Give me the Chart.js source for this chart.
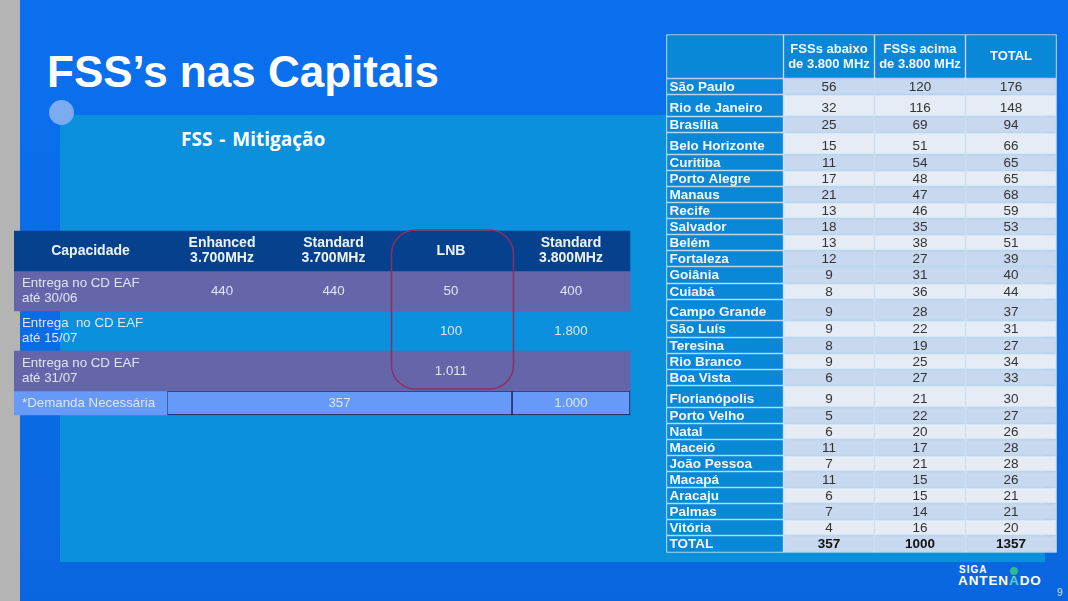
<!DOCTYPE html>
<html lang="pt-BR">
<head>
<meta charset="utf-8">
<title>FSS's nas Capitais</title>
<script src="https://cdn.jsdelivr.net/npm/chart.js@4"></script>
<style>
  html, body { margin: 0; padding: 0; }
  body { width: 1068px; height: 601px; overflow: hidden; position: relative; font-family: "Liberation Sans", Arial, sans-serif; color: #fff;
         background: linear-gradient(180deg, #0a70ee 0%, #0a6ce6 60%, #0a66de 100%); }
  .gutter { position: absolute; left: 0; top: 0; width: 20px; height: 601px; background: #b4b4b4; }
  .panel { position: absolute; left: 60px; top: 115px; width: 985px; height: 447px; background: #0a90dc; }
  .dot { position: absolute; left: 49px; top: 100px; width: 25px; height: 25px; border-radius: 50%; background: #7cabf2; }
  h1 { position: absolute; left: 47px; top: 45px; margin: 0; font-size: 44px; line-height: 54px; font-weight: bold; white-space: nowrap; }
  h2 { position: absolute; left: 181px; top: 127px; margin: 0; font: bold 19px/24px "Open Sans", sans-serif; word-spacing: 2px; white-space: nowrap; }
  canvas { position: absolute; }
  #capacityChart { left: 14px; top: 225px; }
  #capitalsChart { left: 666px; top: 34px; }
  .logo { position: absolute; left: 958px; top: 563px; width: 90px; height: 26px; font-weight: bold; }
  .logo .siga { position: absolute; left: 1px; top: 1px; font-size: 10px; line-height: 11px; letter-spacing: 1px; }
  .logo .name { position: absolute; left: 0; top: 10px; font-size: 13.5px; line-height: 15px; letter-spacing: 0.9px; white-space: nowrap; }
  .logo .name span { color: #5fd0c0; }
  .logo .head { position: absolute; left: 52px; top: 4px; width: 8px; height: 8px; border-radius: 50%; background: #2fb98e; }
  .page { position: absolute; left: 1057px; top: 587px; font-size: 10px; line-height: 12px; color: #cfe0f8; }
</style>
</head>
<body>
<div class="gutter"></div>
<div class="panel"></div>
<div class="dot"></div>
<h1>FSS’s nas Capitais</h1>
<h2>FSS - Mitigação</h2>
<canvas id="capacityChart" width="620" height="195"></canvas>
<canvas id="capitalsChart" width="392" height="519"></canvas>
<div class="logo">
  <div class="siga">SIGA</div>
  <div class="head"></div>
  <div class="name">ANTEN<span>A</span>DO</div>
</div>
<div class="page">9</div>

<script>
/* -------------------------
   DATA - capitals table
--------------------------*/
const cities = ["São Paulo", "Rio de Janeiro", "Brasília", "Belo Horizonte", "Curitiba", "Porto Alegre", "Manaus",
    "Recife", "Salvador", "Belém", "Fortaleza", "Goiânia", "Cuiabá", "Campo Grande", "São Luís", "Teresina",
    "Rio Branco", "Boa Vista", "Florianópolis", "Porto Velho", "Natal", "Maceió", "João Pessoa", "Macapá",
    "Aracaju", "Palmas", "Vitória", "TOTAL"];
const belowValues = [56, 32, 25, 15, 11, 17, 21, 13, 18, 13, 12, 9, 8, 9, 9, 8, 9, 6, 9, 5, 6, 11, 7, 11, 6, 7, 4, 357];
const aboveValues = [120, 116, 69, 51, 54, 48, 47, 46, 35, 38, 27, 31, 36, 28, 22, 19, 25, 27, 21, 22, 20, 17, 21, 15, 15, 14, 16, 1000];
const totalValues = [176, 148, 94, 66, 65, 65, 68, 59, 53, 51, 39, 40, 44, 37, 31, 27, 34, 33, 30, 27, 26, 28, 28, 26, 21, 21, 20, 1357];
const capitalHeaders = [[], ["FSSs abaixo", "de 3.800 MHz"], ["FSSs acima", "de 3.800 MHz"], ["TOTAL"]];

/* -------------------------
   DATA - capacity table
--------------------------*/
const capacityHeaders = [["Capacidade"], ["Enhanced", "3.700MHz"], ["Standard", "3.700MHz"], ["LNB"], ["Standard", "3.800MHz"]];
const deliveryRows = [["Entrega no CD EAF", "até 30/06"], ["Entrega  no CD EAF", "até 15/07"], ["Entrega no CD EAF", "até 31/07"]];
const enhancedValues = ["440", "", ""];
const standard37Values = ["440", "", ""];
const lnbValues = ["50", "100", "1.011"];
const standard38Values = ["400", "1.800", ""];
const demandLabel = "*Demanda Necessária";
const demandValues = ["357", "1.000"];

/* -------------------------
   LAYOUT (column widths and row heights, in px)
--------------------------*/
const capitalCols = [117, 91, 91, 91];
const capitalRows = [44, 16, 22, 16, 22, 16, 16, 16, 16, 16, 16, 16, 17, 16, 21, 17, 16, 16, 16, 22, 16, 16, 16, 16, 16, 16, 16, 16, 17];
const capacityCols = [153, 110, 113, 122, 118];
const capacityRows = [40, 40, 40, 40, 24];

// running edges: [0, a, a+b, ...]
const edges = (sizes, start = 0) => sizes.reduce((acc, s) => { acc.push(acc[acc.length - 1] + s); return acc; }, [start]);

function cellBars(xFrom, xTo, spans) {
    return {
        barThickness: xTo - xFrom,
        grouped: false,
        data: spans.map(s => ({ x: (xFrom + xTo) / 2, y: s })),
        borderSkipped: false
    };
}

function tableChart(id, datasets, xMax, yMin, yMax, drawExtras) {
    const el = document.getElementById(id);
    return new Chart(el, {
        type: "bar",
        data: { datasets },
        options: {
            responsive: false,
            animation: false,
            layout: { padding: 0 },
            plugins: { legend: { display: false }, tooltip: { enabled: false } },
            scales: {
                x: { type: "linear", display: false, min: 0, max: xMax, offset: false },
                y: { type: "linear", display: false, min: yMin, max: yMax, reverse: true }
            }
        },
        plugins: [{ id: "cellText", afterDatasetsDraw: drawExtras }]
    });
}

function putText(ctx, text, x, y, font, color, align = "center") {
    ctx.font = font;
    ctx.fillStyle = color;
    ctx.textAlign = align;
    ctx.textBaseline = "middle";
    ctx.fillText(text, x, y);
}

/* -------------------------
   CAPITALS TABLE
--------------------------*/
const colX = edges(capitalCols, 0.5);
const rowY = edges(capitalRows, 0.5);
const bodySpans = cities.map((c, i) => [rowY[i + 1], rowY[i + 2]]);
const rowShade = cities.map((c, i) => ((i <= 10 ? i % 2 === 0 : i % 2 === 1) ? "#c8d8ee" : "#e6ecf6"));
const capitalLine = "#dfeaf6";

const capitalSets = [];
// header + first column in the dark blue
capitalSets.push({ ...cellBars(colX[0], colX[1], [[rowY[0], rowY[1]], ...bodySpans]), backgroundColor: "#0a88d8", borderColor: capitalLine, borderWidth: 1 });
for (let c = 1; c < capitalCols.length; c++) {
    capitalSets.push({
        ...cellBars(colX[c], colX[c + 1], [[rowY[0], rowY[1]], ...bodySpans]),
        backgroundColor: ["#0a88d8", ...rowShade],
        borderColor: capitalLine,
        borderWidth: 1
    });
}

tableChart("capitalsChart", capitalSets, 392, 0, 519, (chart) => {
    const { ctx, scales: { x, y } } = chart;
    const columns = [belowValues, aboveValues, totalValues];
    ctx.save();
    capitalHeaders.forEach((lines, c) => {
        const cx = x.getPixelForValue((colX[c] + colX[c + 1]) / 2);
        const mid = (rowY[0] + rowY[1]) / 2;
        lines.forEach((line, l) => {
            const yy = y.getPixelForValue(mid + (l - (lines.length - 1) / 2) * 15);
            putText(ctx, line, cx, yy, "bold 13px 'Liberation Sans'", "#f2f8ff");
        });
    });
    cities.forEach((city, i) => {
        const mid = (rowY[i + 1] + rowY[i + 2]) / 2 + 0.5;
        const yy = y.getPixelForValue(mid + (capitalRows[i + 1] > 20 ? 2 : 0));
        const bold = i === cities.length - 1;
        putText(ctx, city, x.getPixelForValue(colX[0] + 3), yy, "bold 13.5px 'Liberation Sans'", "#f4f9ff", "left");
        columns.forEach((vals, c) => {
            putText(ctx, String(vals[i]), x.getPixelForValue((colX[c + 1] + colX[c + 2]) / 2), yy,
                (bold ? "bold " : "") + "13.5px 'Liberation Sans'", bold ? "#111" : "#333");
        });
    });
    ctx.restore();
});

/* -------------------------
   CAPACITY TABLE
--------------------------*/
const capX = edges(capacityCols);
const capY = edges(capacityRows, 6);
const fullWidth = capX[capX.length - 1];
const purple = "#6566aa";
const demandBlue = "#6699f8";
const demandLine = "#0a1f50";

const capacitySets = [
    { ...cellBars(0, fullWidth, [[capY[0], capY[1]]]), backgroundColor: "#05418c" },
    { ...cellBars(0, fullWidth, [[capY[1], capY[2]], [capY[3], capY[4]]]), backgroundColor: purple },
    { ...cellBars(0, capX[1], [[capY[4], capY[5]]]), backgroundColor: demandBlue },
    { ...cellBars(capX[1], capX[4], [[capY[4], capY[5]]]), backgroundColor: demandBlue, borderColor: demandLine, borderWidth: 1 },
    { ...cellBars(capX[4], capX[5], [[capY[4], capY[5]]]), backgroundColor: demandBlue, borderColor: demandLine, borderWidth: 1 }
];

tableChart("capacityChart", capacitySets, 620, 0, 195, (chart) => {
    const { ctx, scales: { x, y } } = chart;
    const valueCols = [enhancedValues, standard37Values, lnbValues, standard38Values];
    const bodyFont = "13.3px 'Liberation Sans'";
    const bodyColor = "#dde6f5";
    ctx.save();

    capacityHeaders.forEach((lines, c) => {
        const cx = x.getPixelForValue((capX[c] + capX[c + 1]) / 2);
        const mid = (capY[0] + capY[1]) / 2;
        lines.forEach((line, l) => {
            putText(ctx, line, cx, y.getPixelForValue(mid + (l - (lines.length - 1) / 2) * 15), "bold 14px 'Liberation Sans'", "#eef4fc");
        });
    });

    deliveryRows.forEach((lines, r) => {
        const mid = (capY[r + 1] + capY[r + 2]) / 2;
        lines.forEach((line, l) => {
            putText(ctx, line, x.getPixelForValue(8), y.getPixelForValue(mid + (l - 0.5) * 15.5), bodyFont, bodyColor, "left");
        });
        valueCols.forEach((vals, c) => {
            if (vals[r]) putText(ctx, vals[r], x.getPixelForValue((capX[c + 1] + capX[c + 2]) / 2), y.getPixelForValue(mid), bodyFont, bodyColor);
        });
    });

    const demandMid = y.getPixelForValue((capY[4] + capY[5]) / 2);
    putText(ctx, demandLabel, x.getPixelForValue(8), demandMid, bodyFont, bodyColor, "left");
    putText(ctx, demandValues[0], x.getPixelForValue((capX[1] + capX[4]) / 2), demandMid, bodyFont, bodyColor);
    putText(ctx, demandValues[1], x.getPixelForValue((capX[4] + capX[5]) / 2), demandMid, bodyFont, bodyColor);

    // rounded outline around the LNB column
    ctx.strokeStyle = "#8e2f60";
    ctx.lineWidth = 1.5;
    ctx.beginPath();
    ctx.roundRect(x.getPixelForValue(capX[3] + 1.5), y.getPixelForValue(capY[0] - 1), capacityCols[3], capacityRows.slice(0, 4).reduce((a, b) => a + b, 0) - 1, 24);
    ctx.stroke();
    ctx.restore();
});
</script>
</body>
</html>
